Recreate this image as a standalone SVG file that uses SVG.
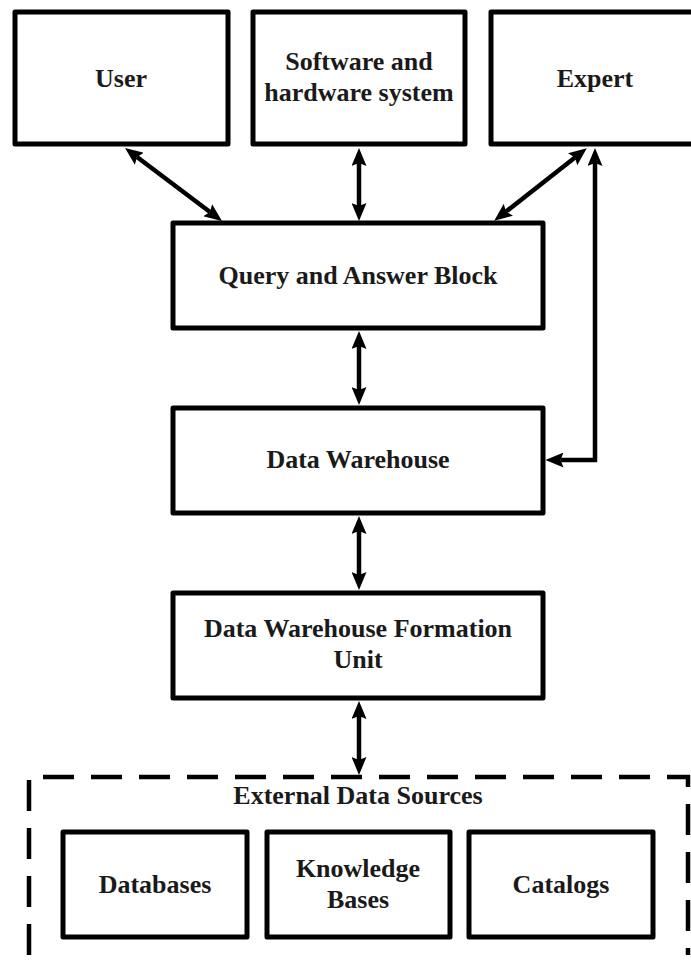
<svg xmlns="http://www.w3.org/2000/svg" width="691" height="971" viewBox="0 0 691 971">
<style>
.box{fill:#fff;stroke:#000;stroke-width:5;stroke-linejoin:round}
.t{font-family:"Liberation Serif","Times New Roman",serif;font-weight:bold;font-size:26px;fill:#1a1a1a;text-anchor:middle}
.c{fill:none;stroke:#000;stroke-width:4.5;marker-start:url(#ah);marker-end:url(#ah)}
.dash{fill:none;stroke:#000;stroke-width:4.5;stroke-dasharray:31 17}
</style>
<defs>
<marker id="ah" viewBox="0 0 18 15" markerWidth="18" markerHeight="15" markerUnits="userSpaceOnUse" refX="3" refY="7.5" orient="auto-start-reverse">
<path d="M0,0 L18,7.5 L0,15 L3,7.5 z" fill="#000"/>
</marker>
</defs>
<rect width="691" height="971" fill="#fff"/>
<g id="user"><rect class="box" x="15" y="12" width="213" height="132"/><text class="t" x="121" y="87">User</text></g>
<g id="software"><rect class="box" x="253" y="12" width="212" height="132"/><text class="t" x="359" y="70">Software and</text><text class="t" x="359" y="101">hardware system</text></g>
<g id="expert"><rect class="box" x="491" y="12" width="210" height="132"/><text class="t" x="595" y="87">Expert</text></g>
<g id="query"><rect class="box" x="173" y="223" width="370" height="105"/><text class="t" x="358" y="284">Query and Answer Block</text></g>
<g id="warehouse"><rect class="box" x="173" y="408" width="370" height="105"/><text class="t" x="358" y="468">Data Warehouse</text></g>
<g id="formation"><rect class="box" x="173" y="593" width="370" height="105"/><text class="t" x="358" y="637">Data Warehouse Formation</text><text class="t" x="358" y="668">Unit</text></g>
<g id="external">
<path class="dash" d="M29,955 V777 H688 V955"/>
<text class="t" x="358" y="804">External Data Sources</text>
<g id="databases"><rect class="box" x="63" y="832" width="184" height="105"/><text class="t" x="155" y="893">Databases</text></g>
<g id="knowledge"><rect class="box" x="267" y="832" width="183" height="105"/><text class="t" x="358" y="877">Knowledge</text><text class="t" x="358" y="908">Bases</text></g>
<g id="catalogs"><rect class="box" x="469" y="832" width="184" height="105"/><text class="t" x="561" y="893">Catalogs</text></g>
</g>
<g id="connectors">
<line class="c" x1="137" y1="157" x2="210" y2="212"/>
<line class="c" x1="359" y1="163" x2="359" y2="206"/>
<line class="c" x1="575" y1="157.4" x2="506" y2="211.6"/>
<line class="c" x1="359" y1="346" x2="359" y2="390"/>
<line class="c" x1="359" y1="531" x2="359" y2="575"/>
<line class="c" x1="359" y1="716" x2="359" y2="760"/>
<path class="c" d="M595,163 V460 H560.5"/>
</g>
</svg>
